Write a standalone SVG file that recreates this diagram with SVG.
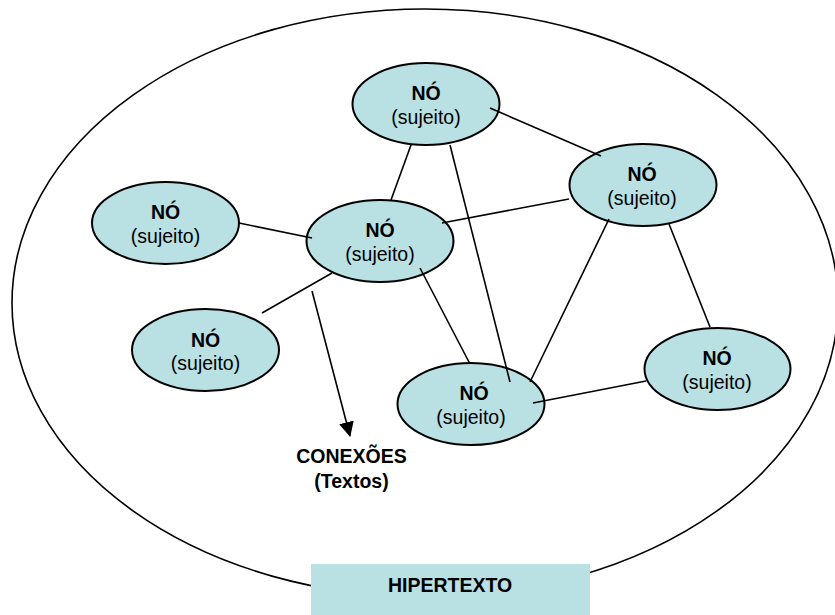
<svg xmlns="http://www.w3.org/2000/svg" width="835" height="615" viewBox="0 0 835 615">
<defs>
<style>
.node{fill:#b9e0e3;stroke:#000;stroke-width:2}
.ln{stroke:#000;stroke-width:1.6;fill:none}
.b{font-family:"Liberation Sans",Arial,sans-serif;font-weight:bold;font-size:19.5px;text-anchor:middle;fill:#000}
.r{font-family:"Liberation Sans",Arial,sans-serif;font-size:19.5px;text-anchor:middle;fill:#000}
</style>
<marker id="ah" markerWidth="16" markerHeight="16" refX="14" refY="7.5" orient="auto" markerUnits="userSpaceOnUse">
<path d="M0,0 L15,7.5 L0,15 Z" fill="#000"/>
</marker>
</defs>
<rect width="835" height="615" fill="#fff"/>
<g id="hipertexto-boundary">
<ellipse cx="425" cy="303" rx="413" ry="294" fill="none" stroke="#000" stroke-width="1.6"/>
</g>
<g id="node1">
<ellipse class="node" cx="426" cy="104" rx="73.5" ry="41"/>
<text class="b" x="426" y="100">NÓ</text>
<text class="r" x="426" y="124">(sujeito)</text>
</g>
<g id="node2">
<ellipse class="node" cx="643" cy="185" rx="73.5" ry="41"/>
<text class="b" x="642" y="181">NÓ</text>
<text class="r" x="642" y="205">(sujeito)</text>
</g>
<g id="node3">
<ellipse class="node" cx="165.5" cy="223" rx="73.5" ry="41"/>
<text class="b" x="165.5" y="219">NÓ</text>
<text class="r" x="165.5" y="243">(sujeito)</text>
</g>
<g id="node4">
<ellipse class="node" cx="380" cy="241" rx="73.5" ry="41"/>
<text class="b" x="380" y="237">NÓ</text>
<text class="r" x="380" y="261">(sujeito)</text>
</g>
<g id="node5">
<ellipse class="node" cx="205.5" cy="350" rx="73.5" ry="41"/>
<text class="b" x="205.5" y="347">NÓ</text>
<text class="r" x="205.5" y="370">(sujeito)</text>
</g>
<g id="node6">
<ellipse class="node" cx="471" cy="404" rx="73.5" ry="41"/>
<text class="b" x="474" y="400">NÓ</text>
<text class="r" x="471" y="424">(sujeito)</text>
</g>
<g id="node7">
<ellipse class="node" cx="717.5" cy="369" rx="73" ry="41"/>
<text class="b" x="717" y="365">NÓ</text>
<text class="r" x="717" y="389">(sujeito)</text>
</g>
<g id="connectors">
<line class="ln" x1="490" y1="108" x2="601" y2="156"/>
<line class="ln" x1="411" y1="145" x2="391" y2="200"/>
<line class="ln" x1="450" y1="145" x2="510" y2="382"/>
<line class="ln" x1="239" y1="223" x2="312" y2="238"/>
<line class="ln" x1="442" y1="223" x2="569" y2="199"/>
<line class="ln" x1="262" y1="313" x2="332" y2="273"/>
<line class="ln" x1="420" y1="268" x2="470" y2="364"/>
<line class="ln" x1="609" y1="219" x2="530" y2="382"/>
<line class="ln" x1="669" y1="224" x2="710" y2="327"/>
<line class="ln" x1="533" y1="403" x2="646" y2="381"/>
<line class="ln" x1="312" y1="291" x2="350" y2="436" marker-end="url(#ah)"/>
</g>
<g id="conexoes-label">
<text class="b" x="351.5" y="463">CONEXÕES</text>
<text class="b" x="351.5" y="488">(Textos)</text>
</g>
<g id="hipertexto-box">
<rect x="311" y="564" width="279" height="51" fill="#b9e0e3"/>
<text class="b" x="450" y="592">HIPERTEXTO</text>
</g>
</svg>
